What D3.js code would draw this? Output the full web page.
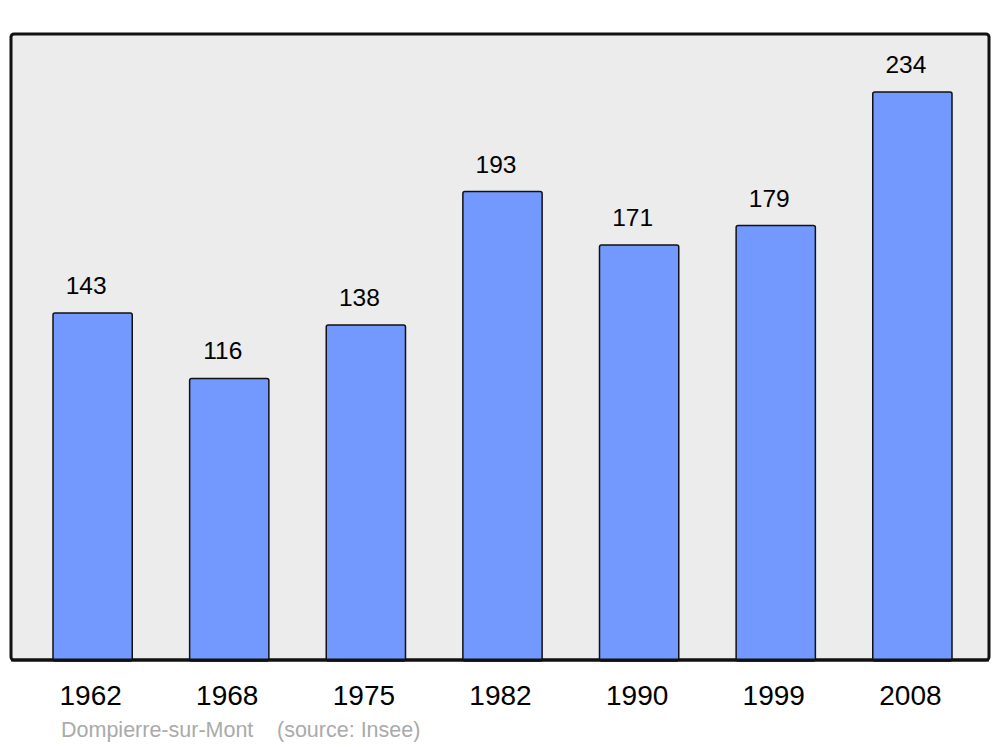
<!DOCTYPE html>
<html>
<head>
<meta charset="utf-8">
<script src="https://cdn.jsdelivr.net/npm/d3@7"></script>
<style>
  body { margin: 0; background: #fff; }
  text { font-family: "Liberation Sans", Arial, sans-serif; }
</style>
</head>
<body>
<svg id="chart" width="1000" height="747"></svg>
<script>
const years = ["1962", "1968", "1975", "1982", "1990", "1999", "2008"]
const population = [143, 116, 138, 193, 171, 179, 234]
const commune = "Dompierre-sur-Mont"
const source = "(source: Insee)"

const svg = d3.select("#chart")

// panel
const panel = {left: 11, top: 34, right: 989, bottom: 660}

svg.append("rect")
  .attr("x", panel.left)
  .attr("y", panel.top)
  .attr("width", panel.right - panel.left)
  .attr("height", panel.bottom - panel.top)
  .attr("rx", 3)
  .attr("fill", "#ececec")
  .attr("stroke", "#111")
  .attr("stroke-width", 3)

const x = d3.scaleBand()
  .domain(years)
  .range([53, 952])
  .paddingInner(0.42)
  .paddingOuter(0)

const y = d3.scaleLinear()
  .domain([0, 234])
  .range([panel.bottom, 92])

const data = years.map((yr, i) => ({year: yr, value: population[i]}))

// bars
svg.append("g")
  .selectAll("rect")
  .data(data)
  .enter().append("rect")
    .attr("x", d => x(d.year))
    .attr("y", d => y(d.value))
    .attr("width", x.bandwidth())
    .attr("height", d => y(0) - y(d.value) + 1)
    .attr("rx", 2)
    .attr("fill", "#7399ff")
    .attr("stroke", "#111")
    .attr("stroke-width", 1.5)

// redraw the bottom border over the bars
svg.append("line")
  .attr("x1", panel.left)
  .attr("x2", panel.right)
  .attr("y1", panel.bottom)
  .attr("y2", panel.bottom)
  .attr("stroke", "#111")
  .attr("stroke-width", 3)

// value labels
svg.append("g")
  .selectAll("text")
  .data(data)
  .enter().append("text")
    .attr("x", d => x(d.year) + x.bandwidth() / 2 - 6.5)
    .attr("y", d => y(d.value) - 19)
    .attr("text-anchor", "middle")
    .attr("font-size", 24.5)
    .attr("fill", "#000")
    .text(d => d.value)

// year labels
const xAxis = d3.axisBottom(x).tickSize(0).tickPadding(0)
const axisG = svg.append("g")
  .attr("transform", "translate(-2," + 705 + ")")
  .call(xAxis)
axisG.select(".domain").remove()
axisG.selectAll("text")
  .attr("dy", 0)
  .attr("font-size", 28)
  .attr("font-family", "Liberation Sans, Arial, sans-serif")
  .attr("fill", "#000")

// footer
svg.append("text")
  .attr("x", 61)
  .attr("y", 737)
  .attr("font-size", 21.5)
  .attr("fill", "#aaa")
  .text(commune)

svg.append("text")
  .attr("x", 277)
  .attr("y", 737)
  .attr("font-size", 21.5)
  .attr("fill", "#aaa")
  .text(source)
</script>
</body>
</html>
